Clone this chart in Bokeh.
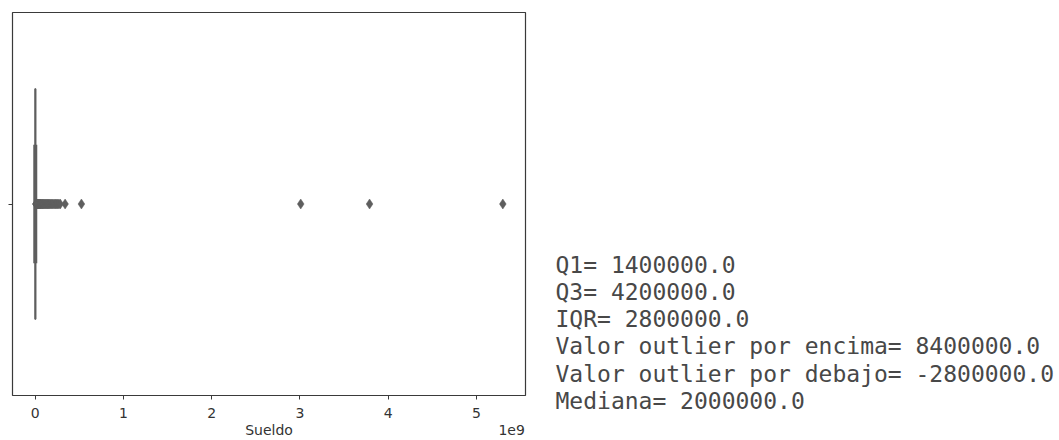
from bokeh.plotting import figure
from bokeh.layouts import row, column
from bokeh.models import (Range1d, FixedTicker, CustomJSTickFormatter, LinearAxis,
                          ColumnDataSource)
from bokeh.core.properties import value
from bokeh.embed import file_html
from bokeh.resources import INLINE

# ---- data (Sueldo) ----
q1 = 1400000.0
q3 = 4200000.0
median = 2000000.0
whisker_low = 100000.0
whisker_high = 8400000.0
fliers = [9.0e6, 1.1e7, 1.3e7, 1.5e7, 1.8e7, 2.0e7, 2.3e7, 2.6e7, 3.0e7, 3.4e7,
          3.8e7, 4.2e7, 4.7e7, 5.2e7, 5.8e7, 6.5e7, 7.2e7, 8.0e7, 8.8e7, 9.6e7,
          1.05e8, 1.15e8, 1.25e8, 1.35e8, 1.45e8, 1.55e8, 1.65e8, 1.78e8,
          1.9e8, 2.02e8, 2.15e8, 2.28e8, 2.4e8, 2.55e8, 2.7e8, 2.85e8,
          3.4e8, 5.25e8, 3.01e9, 3.79e9, 5.30e9]
xticks = [0, 1e9, 2e9, 3e9, 4e9, 5e9]
axis_texts = ["Sueldo", "1e9"]
stats_lines = ["Q1= 1400000.0",
               "Q3= 4200000.0",
               "IQR= 2800000.0",
               "Valor outlier por encima= 8400000.0",
               "Valor outlier por debajo= -2800000.0",
               "Mediana= 2000000.0"]

GRAY = "#5e5e5e"
AX = "#3a3a3a"
TXT = "#333333"

x_start, x_end = -0.256e9, 5.557e9
p = figure(width=540, height=440, output_backend="svg", toolbar_location=None,
           title=None,
           x_range=Range1d(x_start, x_end), y_range=Range1d(-0.5, 0.5),
           min_border_left=12, min_border_right=15, min_border_top=12,
           min_border_bottom=44)
p.grid.visible = False
p.outline_line_color = AX
p.outline_line_width = 1.2
p.background_fill_color = "white"

p.segment(x0=[whisker_low], y0=[0], x1=[whisker_high], y1=[0], line_color=GRAY, line_width=2)
p.quad(left=[q1], right=[q3], bottom=[-0.3], top=[0.3], fill_color=GRAY,
       line_color=GRAY, line_width=2)
p.segment(x0=[median], y0=[-0.155], x1=[median], y1=[0.155], line_color=GRAY, line_width=4)
src = ColumnDataSource(dict(x=fliers, y=[0] * len(fliers)))
p.scatter("x", "y", source=src, marker="diamond", size=10, fill_color=GRAY,
          line_color=GRAY, line_width=0.5)

xa = p.xaxis[0]
xa.ticker = FixedTicker(ticks=xticks)
xa.formatter = CustomJSTickFormatter(code="return (tick/1e9).toFixed(0);")
xa.major_label_text_font = "DejaVu Sans"
xa.major_label_text_font_size = "14px"
xa.major_label_text_color = TXT
xa.major_label_standoff = 8
xa.axis_line_color = None
xa.major_tick_line_color = AX
xa.major_tick_out = 4
xa.major_tick_in = 0
xa.minor_tick_line_color = None

# second (label-only) axis: axis title centred and offset text at the right
span = x_end - x_start
xa2 = LinearAxis(ticker=FixedTicker(ticks=[(x_start + x_end) / 2, x_end - 0.027 * span]),
                 formatter=CustomJSTickFormatter(args=dict(labels=axis_texts),
                                                 code="return labels[index];"))
xa2.major_label_text_font = "DejaVu Sans"
xa2.major_label_text_font_size = "14px"
xa2.major_label_text_color = TXT
xa2.major_label_standoff = 1
xa2.axis_line_color = None
xa2.major_tick_line_color = None
xa2.major_tick_out = 0
xa2.major_tick_in = 0
xa2.minor_tick_line_color = None
p.add_layout(xa2, "below")

ya = p.yaxis[0]
ya.ticker = FixedTicker(ticks=[0])
ya.major_label_text_color = None
ya.major_label_standoff = 0
ya.axis_line_color = None
ya.major_tick_line_color = AX
ya.major_tick_out = 4
ya.major_tick_in = 0
ya.minor_tick_line_color = None

# ---- text panel ----
t = figure(width=519, height=440, output_backend="svg", toolbar_location=None,
           title=None,
           x_range=Range1d(0, 519), y_range=Range1d(440, 0),
           min_border=0, outline_line_color=None)
t.axis.visible = False
t.grid.visible = False
ys = [264 + 27.3 * i for i in range(len(stats_lines))]
t.text(x=[15] * len(stats_lines), y=ys, text=stats_lines,
       text_font=value("DejaVu Sans Mono"), text_font_size="23px",
       text_color="#484848", text_baseline="middle", text_align="left")

layout = row(p, column(t))
open("out.html", "w").write(file_html(layout, INLINE))
